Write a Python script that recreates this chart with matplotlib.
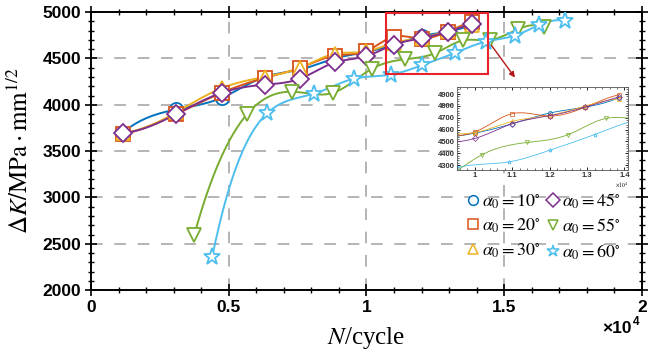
import numpy as np
import matplotlib
matplotlib.use("Agg")
import matplotlib.pyplot as plt
from matplotlib.lines import Line2D
from matplotlib.patches import Rectangle
from matplotlib.ticker import MultipleLocator

plt.rcParams['mathtext.fontset'] = 'stix'
plt.rcParams['font.family'] = ['Liberation Sans', 'DejaVu Sans']

# ---------------- data (N in units of 1e4 cycles, dK in MPa*mm^0.5) ----------------
labels = [r"$\alpha_0=10^{\circ}$", r"$\alpha_0=20^{\circ}$", r"$\alpha_0=30^{\circ}$",
          r"$\alpha_0=45^{\circ}$", r"$\alpha_0=55^{\circ}$", r"$\alpha_0=60^{\circ}$"]

n_a = [0.115, 0.31, 0.475, 0.63, 0.76, 0.885, 1.0, 1.10, 1.20, 1.295, 1.385]
dk_10 = [3700, 3950, 4076, 4300, 4380, 4500, 4570, 4650, 4740, 4790, 4870]
dk_20 = [3680, 3900, 4130, 4290, 4400, 4530, 4580, 4735, 4715, 4790, 4895]
dk_30 = [3700, 3920, 4180, 4300, 4400, 4550, 4575, 4670, 4720, 4800, 4860]
dk_45 = [3696, 3900, 4130, 4217, 4283, 4457, 4525, 4650, 4717, 4790, 4877]

n_55 = [0.375, 0.567, 0.73, 0.88, 1.02, 1.14, 1.25, 1.35, 1.45, 1.55, 1.646]
dk_55 = [2598, 3900, 4141, 4130, 4389, 4491, 4558, 4694, 4700, 4815, 4837]

n_60 = [0.44, 0.64, 0.81, 0.953, 1.09, 1.20, 1.32, 1.433, 1.538, 1.628, 1.72]
dk_60 = [2359, 3910, 4120, 4280, 4326, 4425, 4558, 4681, 4746, 4862, 4905]

xticks = [0, 0.5, 1, 1.5, 2]
xticklabels = ["0", "0.5", "1", "1.5", "2"]
yticks = [2000, 2500, 3000, 3500, 4000, 4500, 5000]
inset_xticks = [1, 1.1, 1.2, 1.3, 1.4]
inset_yticks = [4300, 4400, 4500, 4600, 4700, 4800, 4900]

series = [
    (n_a, dk_10, 'o', (0.0, 0.447, 0.741)),
    (n_a, dk_20, 's', (0.85, 0.325, 0.098)),
    (n_a, dk_30, '^', (0.929, 0.694, 0.125)),
    (n_a, dk_45, 'D', (0.494, 0.184, 0.556)),
    (n_55, dk_55, 'v', (0.466, 0.674, 0.188)),
    (n_60, dk_60, '*', (0.301, 0.745, 0.933)),
]


def smooth(x, y, num=400):
    """Not-a-knot cubic spline through the points (only for drawing the curve)."""
    x = np.asarray(x, float); y = np.asarray(y, float)
    n = len(x)
    h = np.diff(x)
    A = np.zeros((n, n)); b = np.zeros(n)
    A[0, 0] = -h[1]; A[0, 1] = h[0] + h[1]; A[0, 2] = -h[0]
    A[-1, -3] = -h[-1]; A[-1, -2] = h[-1] + h[-2]; A[-1, -1] = -h[-2]
    for i in range(1, n - 1):
        A[i, i - 1] = h[i - 1]
        A[i, i] = 2 * (h[i - 1] + h[i])
        A[i, i + 1] = h[i]
        b[i] = 3 * ((y[i + 1] - y[i]) / h[i] - (y[i] - y[i - 1]) / h[i - 1])
    c = np.linalg.solve(A, b)
    xs = np.linspace(x[0], x[-1], num)
    idx = np.clip(np.searchsorted(x, xs) - 1, 0, n - 2)
    dx = xs - x[idx]
    hi = h[idx]
    bb = (y[idx + 1] - y[idx]) / hi - hi * (2 * c[idx] + c[idx + 1]) / 3
    dd = (c[idx + 1] - c[idx]) / (3 * hi)
    ys = y[idx] + bb * dx + c[idx] * dx ** 2 + dd * dx ** 3
    return xs, ys


fig = plt.figure(figsize=(6.51, 3.56), dpi=100)
ax = fig.add_axes([0.1398, 0.185, 0.8462, 0.781])

for x, y, m, col in series:
    xs, ys = smooth(x, y)
    ax.plot(xs, ys, '-', color=col, lw=1.4, zorder=3)
    ms = 12.5 if m == '*' else 9.5
    ax.plot(x, y, m, ls='none', mfc='white', mec=col, mew=1.3, ms=ms, zorder=4)

ax.set_xlim(0, 2)
ax.set_ylim(2000, 5000)
ax.set_xticks(xticks)
ax.set_xticklabels(xticklabels)
ax.set_yticks(yticks)
ax.xaxis.set_minor_locator(MultipleLocator(0.1))
ax.yaxis.set_minor_locator(MultipleLocator(100))
ax.tick_params(which='major', direction='inout', length=8, width=1.2,
               top=True, right=True, labelsize=12.5, pad=3)
ax.tick_params(which='minor', direction='inout', length=4, width=1.0,
               top=True, right=True)
for lab in ax.get_xticklabels() + ax.get_yticklabels():
    lab.set_fontweight('bold')
for sp in ax.spines.values():
    sp.set_linewidth(1.4)
ax.grid(True, which='major', color='#b4b4b4', ls=(0, (6, 6)), lw=1.4)
ax.set_axisbelow(True)

ax.set_xlabel(r"$N$/cycle", fontsize=18, family='Liberation Serif', labelpad=7)
ax.set_ylabel(r"$\Delta K/\mathrm{MPa}\cdot\mathrm{mm}^{1/2}$", fontsize=18,
              family='Liberation Serif', labelpad=7)
fig.text(0.971, 0.078, "×10", ha='right', va='center', fontsize=12.5,
         fontweight='bold')
fig.text(0.972, 0.096, "4", ha='left', va='center', fontsize=8.5,
         fontweight='bold')

# red zoom rectangle and arrow
ax.add_patch(Rectangle((1.07, 4335), 0.37, 650, fill=False, ec='#e8222a', lw=1.5, zorder=5))
ax.annotate('', xy=(1.545, 4270), xytext=(1.448, 4665),
            arrowprops=dict(arrowstyle='-|>', color='#b01818', lw=1.0,
                            mutation_scale=8), zorder=5)

# legend
handles = [Line2D([], [], ls='none', marker=m, mfc='white', mec=col, mew=1.1,
                  ms=(9 if m == '*' else 7)) for _, _, m, col in series]
leg = fig.legend(handles, labels, ncol=2, loc='lower right',
                 bbox_to_anchor=(0.968, 0.24), frameon=False,
                 prop={'family': 'Liberation Serif', 'size': 13},
                 handlelength=0.6, handletextpad=0.2, columnspacing=0.4,
                 labelspacing=0.33, borderpad=0)

# inset
ins = fig.add_axes([0.702, 0.5225, 0.263, 0.233])
for x, y, m, col in series:
    xs, ys = smooth(x, y)
    ins.plot(xs, ys, '-', color=col, lw=0.6)
    ins.plot(x, y, m, ls='none', mfc='none', mec=col, mew=0.5, ms=3)
ins.set_xlim(0.952, 1.41)
ins.set_ylim(4258, 4960)
ins.set_xticks(inset_xticks)
ins.set_xticklabels(["1", "1.1", "1.2", "1.3", "1.4"])
ins.set_yticks(inset_yticks)
ins.xaxis.set_minor_locator(MultipleLocator(0.02))
ins.yaxis.set_minor_locator(MultipleLocator(20))
ins.tick_params(which='major', direction='in', length=2.5, width=0.6,
                top=True, right=True, labelsize=5.5, pad=1.5)
ins.tick_params(which='minor', direction='in', length=1.2, width=0.4,
                top=True, right=True)
for lab in ins.get_xticklabels() + ins.get_yticklabels():
    lab.set_fontweight('bold')
    lab.set_color('#333333')
for sp in ins.spines.values():
    sp.set_linewidth(0.6)
    sp.set_color('#555555')
ins.text(1.0, -0.12, r"$\times10^{4}$", transform=ins.transAxes, ha='right',
         va='top', fontsize=4)

fig.savefig("out.png", dpi=100)
